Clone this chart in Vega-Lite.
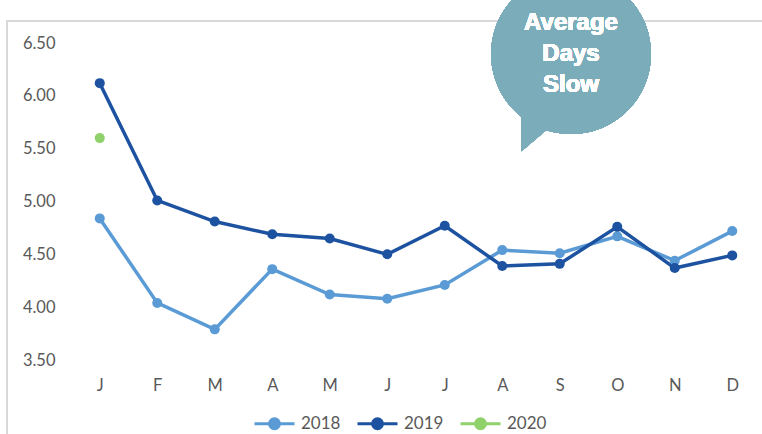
{
  "$schema": "https://vega.github.io/schema/vega-lite/v6.json",
  "width": 690,
  "height": 317,
  "autosize": "none",
  "padding": {"left": 71, "top": 43, "right": 1, "bottom": 74},
  "background": "white",
  "config": {"view": {"stroke": null}, "font": "Lato"},
  "data": {
    "values": [
      {"month": 1, "year": "2018", "value": 4.84},
      {"month": 2, "year": "2018", "value": 4.04},
      {"month": 3, "year": "2018", "value": 3.79},
      {"month": 4, "year": "2018", "value": 4.36},
      {"month": 5, "year": "2018", "value": 4.12},
      {"month": 6, "year": "2018", "value": 4.08},
      {"month": 7, "year": "2018", "value": 4.21},
      {"month": 8, "year": "2018", "value": 4.54},
      {"month": 9, "year": "2018", "value": 4.51},
      {"month": 10, "year": "2018", "value": 4.67},
      {"month": 11, "year": "2018", "value": 4.44},
      {"month": 12, "year": "2018", "value": 4.72},
      {"month": 1, "year": "2019", "value": 6.12},
      {"month": 2, "year": "2019", "value": 5.01},
      {"month": 3, "year": "2019", "value": 4.81},
      {"month": 4, "year": "2019", "value": 4.69},
      {"month": 5, "year": "2019", "value": 4.65},
      {"month": 6, "year": "2019", "value": 4.50},
      {"month": 7, "year": "2019", "value": 4.77},
      {"month": 8, "year": "2019", "value": 4.39},
      {"month": 9, "year": "2019", "value": 4.41},
      {"month": 10, "year": "2019", "value": 4.76},
      {"month": 11, "year": "2019", "value": 4.37},
      {"month": 12, "year": "2019", "value": 4.49},
      {"month": 1, "year": "2020", "value": 5.60}
    ]
  },
  "layer": [
    {
      "mark": {"type": "rect", "fill": null, "stroke": "#d9d9d9", "strokeWidth": 1.5, "clip": false},
      "encoding": {
        "x": {"datum": -0.613, "type": "quantitative", "scale": {"domain": [0.5, 12.5], "nice": false, "zero": false}},
        "x2": {"datum": 14},
        "y": {"datum": 6.708, "type": "quantitative", "scale": {"domain": [3.5, 6.5], "nice": false, "zero": false}},
        "y2": {"datum": 2.0}
      }
    },
    {
      "mark": {"type": "line", "strokeWidth": 3.5},
      "encoding": {
        "x": {
          "field": "month", "type": "quantitative",
          "scale": {"domain": [0.5, 12.5], "nice": false, "zero": false},
          "axis": {
            "title": null, "values": [1,2,3,4,5,6,7,8,9,10,11,12],
            "labelExpr": "['J','F','M','A','M','J','J','A','S','O','N','D'][datum.value-1]",
            "grid": false, "ticks": false, "domain": false,
            "labelPadding": 17, "labelFontSize": 16.5, "labelColor": "#595959", "labelFont": "Lato"
          }
        },
        "y": {
          "field": "value", "type": "quantitative",
          "scale": {"domain": [3.5, 6.5], "nice": false, "zero": false},
          "axis": {
            "title": null, "values": [3.5, 4, 4.5, 5, 5.5, 6, 6.5], "format": ".2f",
            "gridColor": "#d9d9d9", "gridWidth": 1.2, "domain": false, "ticks": false,
            "labelPadding": 16, "labelFontSize": 16.5, "labelColor": "#595959", "labelFont": "Lato"
          }
        },
        "color": {
          "field": "year", "type": "nominal",
          "scale": {"domain": ["2018", "2019", "2020"], "range": ["#5b9bd5", "#1c52a0", "#8fd16a"]},
          "legend": {
            "orient": "none", "legendX": 182, "legendY": 359, "direction": "horizontal",
            "title": null,
            "symbolType": "M-1,0H1M-0.25,0A0.25,0.25 0 1,0 0.25,0A0.25,0.25 0 1,0 -0.25,0",
            "symbolSize": 1600, "symbolStrokeWidth": 3,
            "labelFontSize": 17, "labelColor": "#595959", "labelFont": "Lato",
            "columnPadding": 10, "labelOffset": 5,
            "encode": {
              "symbols": {
                "update": {
                  "fill": {"scale": "color", "field": "value"},
                  "stroke": {"scale": "color", "field": "value"},
                  "strokeWidth": {"value": 3},
                  "opacity": {"value": 1}
                }
              }
            }
          }
        }
      }
    },
    {
      "mark": {"type": "point", "filled": true, "size": 100, "opacity": 1},
      "encoding": {
        "x": {"field": "month", "type": "quantitative"},
        "y": {"field": "value", "type": "quantitative"},
        "color": {"field": "year", "type": "nominal"}
      }
    },
    {
      "mark": {"type": "point", "shape": "circle", "filled": true, "size": 25600, "color": "#7bacb9", "opacity": 1, "clip": false},
      "encoding": {
        "x": {"datum": 9.196, "type": "quantitative"},
        "y": {"datum": 6.396, "type": "quantitative"}
      }
    },
    {
      "mark": {"type": "point", "shape": "M-0.62,0.70L-0.62,1.215L-0.25,0.90Z", "filled": true, "size": 25600, "color": "#7bacb9", "opacity": 1, "clip": false},
      "encoding": {
        "x": {"datum": 9.196, "type": "quantitative"},
        "y": {"datum": 6.396, "type": "quantitative"}
      }
    },
    {
      "mark": {
        "type": "text", "text": ["Average", "Days", "Slow"], "font": "Liberation Sans",
        "fontWeight": "bold", "fontSize": 24, "color": "white", "lineHeight": 31,
        "baseline": "middle", "align": "center", "clip": false, "dy": -31
      },
      "encoding": {
        "x": {"datum": 9.196, "type": "quantitative"},
        "y": {"datum": 6.396, "type": "quantitative"}
      }
    }
  ]
}
